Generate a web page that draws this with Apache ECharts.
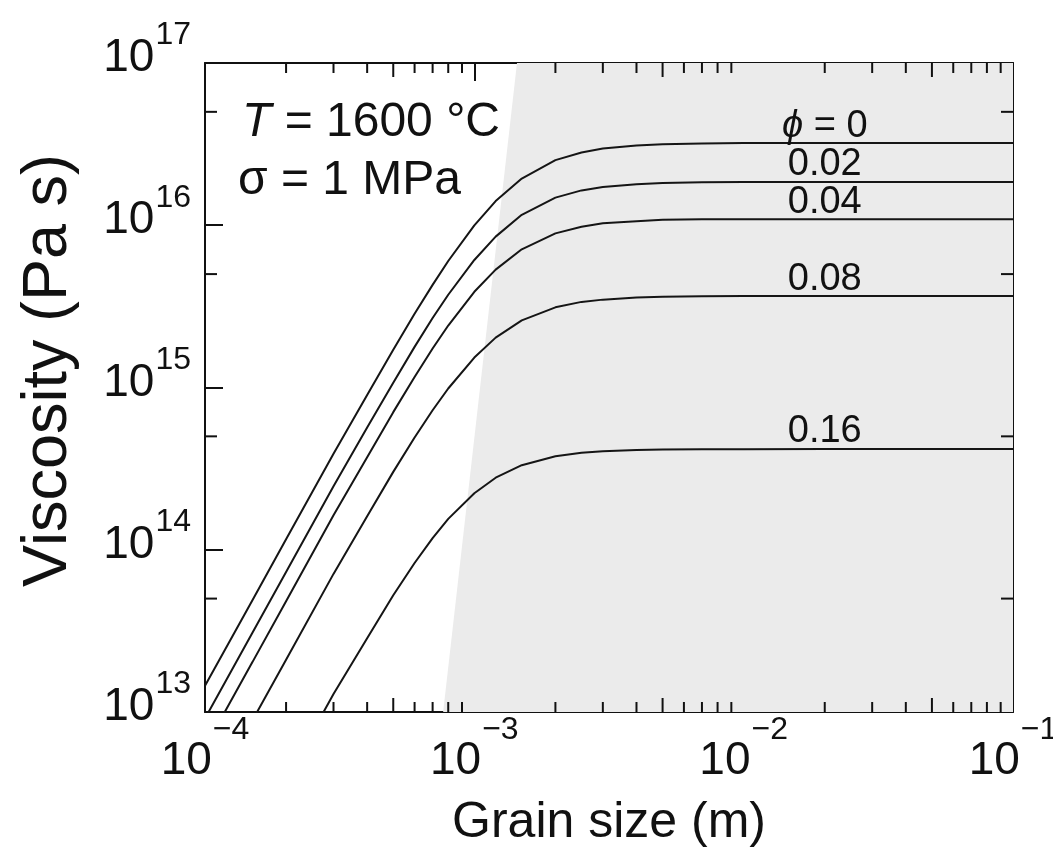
<!DOCTYPE html>
<html>
<head>
<meta charset="utf-8">
<title>Viscosity vs grain size</title>
<script src="https://cdn.jsdelivr.net/npm/echarts@6/dist/echarts.min.js"></script>
<style>
  html, body { margin: 0; padding: 0; background: #fff; }
  #chart { width: 1053px; height: 847px; }
</style>
</head>
<body>
<div id="chart"></div>
<script>
// grain size (m), shared by all curves
const grainSize = [1e-4, 1.5e-4, 2e-4, 3e-4, 4e-4, 5e-4, 6e-4, 7e-4, 8e-4, 1e-3, 1.2e-3, 1.5e-3,
  2e-3, 2.5e-3, 3e-3, 4e-3, 5e-3, 7e-3, 1e-2, 2e-2, 5e-2, 1e-1]

// viscosity (Pa s) for each melt fraction
const phi0 = [1.45e13, 4.88e13, 1.16e14, 3.90e14, 9.0e14, 1.71e15, 2.85e15, 4.29e15, 6.02e15, 9.97e15, 1.41e16, 1.94e16,
  2.52e16, 2.81e16, 2.97e16, 3.10e16, 3.16e16, 3.19e16, 3.21e16, 3.21e16, 3.21e16, 3.21e16]
const phi002 = [9.12e12, 3.08e13, 7.29e13, 2.46e14, 5.66e14, 1.07e15, 1.78e15, 2.68e15, 3.73e15, 6.11e15, 8.51e15, 1.16e16,
  1.48e16, 1.64e16, 1.72e16, 1.79e16, 1.82e16, 1.84e16, 1.85e16, 1.85e16, 1.85e16, 1.85e16]
const phi004 = [6.03e12, 2.03e13, 4.82e13, 1.63e14, 3.72e14, 7.05e14, 1.16e15, 1.74e15, 2.41e15, 3.89e15, 5.33e15, 7.11e15,
  8.91e15, 9.8e15, 1.03e16, 1.06e16, 1.08e16, 1.09e16, 1.09e16, 1.09e16, 1.09e16, 1.09e16]
const phi008 = [2.63e12, 8.87e12, 2.10e13, 7.10e13, 1.61e14, 3.02e14, 4.92e14, 7.24e14, 9.86e14, 1.53e15, 2.03e15, 2.59e15,
  3.12e15, 3.37e15, 3.48e15, 3.59e15, 3.62e15, 3.65e15, 3.66e15, 3.66e15, 3.66e15, 3.66e15]
const phi016 = [4.79e11, 1.61e12, 3.83e12, 1.29e13, 2.85e13, 5.24e13, 8.29e13, 1.18e14, 1.55e14, 2.23e14, 2.78e14, 3.32e14,
  3.77e14, 3.96e14, 4.05e14, 4.12e14, 4.15e14, 4.17e14, 4.17e14, 4.18e14, 4.18e14, 4.18e14]

const curves = [phi0, phi002, phi004, phi008, phi016]
const curveNames = ['ϕ = 0', '0.02', '0.04', '0.08', '0.16']
const labelGrain = 2e-2

// gray shaded region (outline, filled down to the x axis)
const shadeX = [7.66e-4, 1.44e-3, 1e-1]
const shadeY = [1e13, 1e17, 1e17]

// axis range and minor tick positions
const xMin = 1e-4
const xMax = 1e-1
const yMin = 1e13
const yMax = 1e17
const minorX = [2e-4, 3e-4, 4e-4, 6e-4, 7e-4, 8e-4, 9e-4,
  2e-3, 3e-3, 4e-3, 6e-3, 7e-3, 8e-3, 9e-3,
  2e-2, 3e-2, 4e-2, 6e-2, 7e-2, 8e-2, 9e-2]
const midX = [5e-4, 5e-3, 5e-2]
const midY = [5e13, 5e14, 5e15, 5e16]

const font = 'Liberation Sans, Arial, Helvetica, sans-serif'

function pow10Label(v) {
  const e = Math.round(Math.log10(v))
  return '{b|10}{s|' + (e < 0 ? '\u2212' + (-e) : e) + '}'
}
// "10" sits at the bottom of a tall line, the exponent at its top
function powRich(h) {
  return {
    b: { fontSize: 46, fontFamily: font, color: '#111', lineHeight: 46, verticalAlign: 'bottom' },
    s: { fontSize: 32, fontFamily: font, color: '#111', lineHeight: h, verticalAlign: 'top', padding: [0, 0, 0, 1] }
  }
}

const chart = echarts.init(document.getElementById('chart'))

const lineSeries = curves.map((c, i) => ({
  name: curveNames[i],
  type: 'line',
  data: grainSize.map((g, j) => [g, c[j]]),
  showSymbol: false,
  clip: true,
  lineStyle: { color: '#151515', width: 2 },
  z: 3,
  silent: true
}))

function tickSeries(data, size, offset) {
  return {
    type: 'scatter',
    data: data,
    symbol: 'rect',
    symbolSize: size,
    symbolOffset: offset,
    itemStyle: { color: '#111', opacity: 1 },
    silent: true,
    clip: false,
    z: 5
  }
}

chart.setOption({
  animation: false,
  backgroundColor: '#fff',
  grid: { left: 205, right: 40, top: 63, bottom: 135, outerBoundsMode: 'none', containLabel: false },
  xAxis: [{
    type: 'log',
    min: xMin,
    max: xMax,
    name: 'Grain size (m)',
    nameLocation: 'middle',
    nameGap: 86,
    nameTextStyle: { fontSize: 50, fontFamily: font, color: '#111' },
    axisLine: { lineStyle: { color: '#111', width: 2 } },
    axisTick: { inside: true, length: 18, lineStyle: { color: '#111', width: 2 } },
    axisLabel: { margin: 2, formatter: pow10Label, rich: powRich(70) },
    splitLine: { show: false }
  }, {
    type: 'log',
    position: 'top',
    min: xMin,
    max: xMax,
    axisLine: { lineStyle: { color: '#111', width: 2 } },
    axisTick: { inside: true, length: 18, lineStyle: { color: '#111', width: 2 } },
    axisLabel: { show: false },
    splitLine: { show: false }
  }],
  yAxis: [{
    type: 'log',
    min: yMin,
    max: yMax,
    name: 'Viscosity (Pa s)',
    nameLocation: 'middle',
    nameGap: 125,
    nameTextStyle: { fontSize: 63, fontFamily: font, color: '#111', padding: [0, 0, 0, 34] },
    axisLine: { lineStyle: { color: '#111', width: 2 } },
    axisTick: { inside: true, length: 18, lineStyle: { color: '#111', width: 2 } },
    axisLabel: { margin: 14, formatter: pow10Label, rich: powRich(62), padding: [0, 0, 25, 0] },
    splitLine: { show: false }
  }, {
    type: 'log',
    position: 'right',
    min: yMin,
    max: yMax,
    axisLine: { lineStyle: { color: '#111', width: 2 } },
    axisTick: { inside: true, length: 18, lineStyle: { color: '#111', width: 2 } },
    axisLabel: { show: false },
    splitLine: { show: false }
  }],
  graphic: [{
    type: 'text',
    left: 242,
    top: 99,
    style: {
      text: '{i|T}{n| = 1600 °C}',
      rich: {
        i: { fontSize: 48, fontFamily: font, fontStyle: 'italic', fill: '#111' },
        n: { fontSize: 48, fontFamily: font, fill: '#111' }
      }
    }
  }, {
    type: 'text',
    left: 238,
    top: 157,
    style: { text: 'σ = 1 MPa', fontSize: 48, fontFamily: font, fill: '#111' }
  }],
  series: [{
    // shaded region
    type: 'line',
    data: shadeX.map((x, i) => [x, shadeY[i]]),
    showSymbol: false,
    lineStyle: { width: 0 },
    areaStyle: { color: '#ebebeb', opacity: 1, origin: 'start' },
    silent: true,
    z: 1
  }].concat(lineSeries).concat([{
    // curve labels
    type: 'scatter',
    data: curves.map(c => [labelGrain, c[c.length - 1]]),
    symbolSize: 0,
    itemStyle: { opacity: 1 },
    silent: true,
    z: 6,
    label: {
      show: true,
      position: 'top',
      distance: -2,
      formatter: p => curveNames[p.dataIndex].replace('ϕ', '{i|ϕ}'),
      fontSize: 38,
      fontFamily: font,
      color: '#111',
      rich: {
        i: { fontSize: 38, fontFamily: font, fontStyle: 'italic', color: '#111' }
      }
    }
  },
  tickSeries(minorX.map(x => [x, yMin]), [2, 10], [0, -5]),
  tickSeries(minorX.map(x => [x, yMax]), [2, 10], [0, 5]),
  tickSeries(midX.map(x => [x, yMin]), [2, 14], [0, -7]),
  tickSeries(midX.map(x => [x, yMax]), [2, 14], [0, 7]),
  tickSeries(midY.map(y => [xMin, y]), [12, 2], [6, 0]),
  tickSeries(midY.map(y => [xMax, y]), [12, 2], [-6, 0])
  ])
})
</script>
</body>
</html>
